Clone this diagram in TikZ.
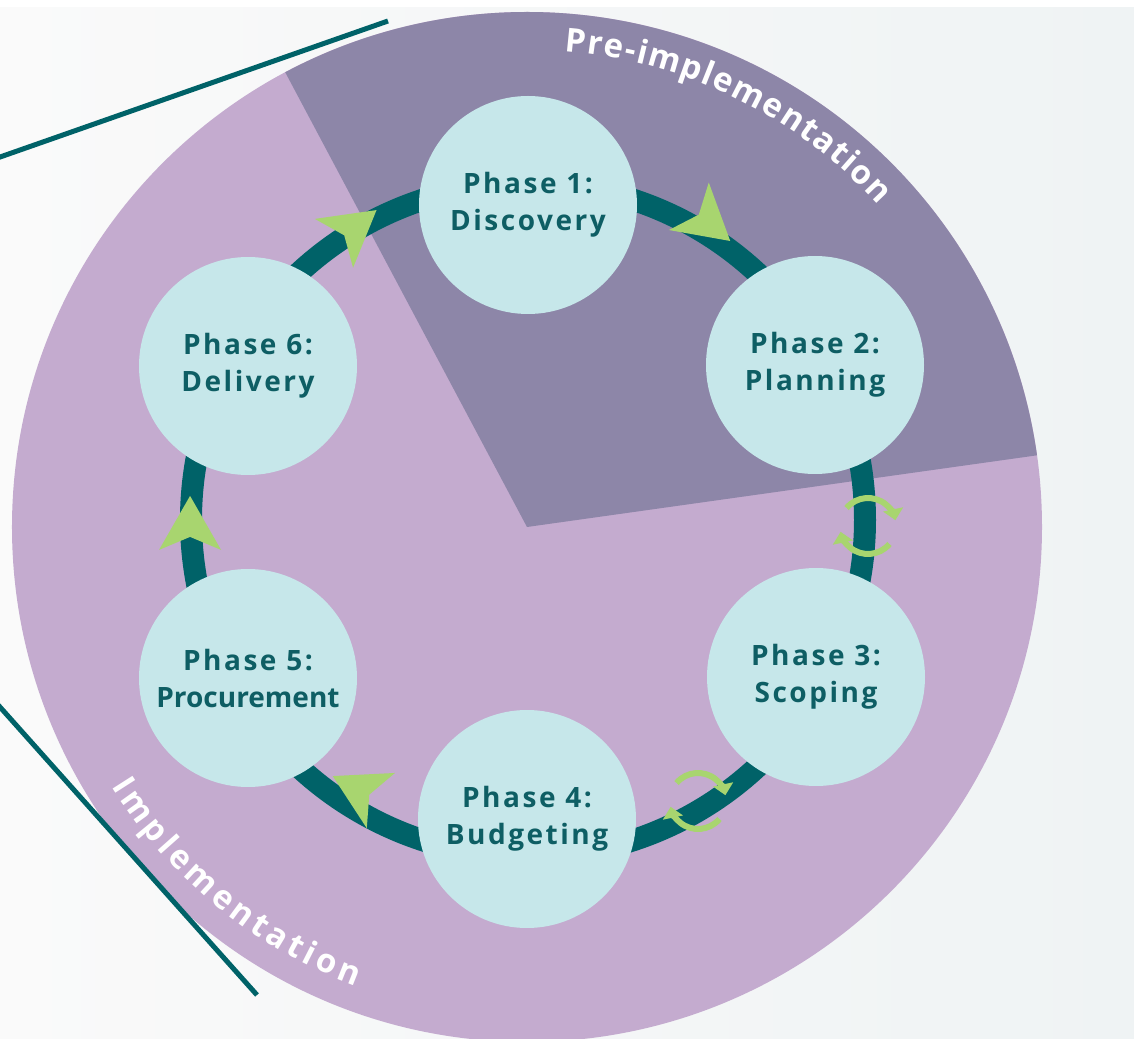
\documentclass[tikz,border=0pt]{standalone}
\usepackage{fontspec}
\setmainfont{Open Sans}
\usetikzlibrary{arrows.meta,decorations.text}
\definecolor{lavender}{RGB}{196,171,207}
\definecolor{dusk}{RGB}{141,134,168}
\definecolor{mist}{RGB}{198,231,234}
\definecolor{deepteal}{RGB}{0,98,104}
\definecolor{inkteal}{RGB}{14,94,100}
\definecolor{leaf}{RGB}{168,213,111}
\definecolor{paperl}{RGB}{250,250,250}
\definecolor{paperr}{RGB}{239,243,244}
\newfontfamily\phasefam[LetterSpace=9]{Open Sans}
\newcommand{\labelstyle}{\fontsize{33}{36}\selectfont\bfseries}

\begin{document}
\begin{tikzpicture}[x=1pt,y=1pt,
  phase/.style={circle,fill=mist,minimum size=218pt,inner sep=0pt,align=center,
    text=inkteal,font=\fontsize{28}{37}\selectfont\phasefam\bfseries},
  ring/.style={draw=deepteal,line width=22pt},
  rim/.style={draw=deepteal,line width=5pt},
  arclabel/.style={decorate,decoration={text along path,text align=fit to path,
    text color=white,text={#1}}},
  flowtip/.pic={\fill[leaf] (30,0) -- (-24,31) -- (-11,0) -- (-24,-31) -- cycle;},
  cycleicon/.pic={\draw[leaf,line width=6pt,-{Triangle[length=11pt,width=20pt]}]
      (140:28) arc[start angle=140,end angle=12,radius=28];
    \draw[leaf,line width=6pt,-{Triangle[length=11pt,width=20pt]}]
      (-40:28) arc[start angle=-40,end angle=-168,radius=28];}]
  \useasboundingbox (-528,-518) rectangle (606,520);
  \shade[left color=paperl,right color=paperr] (-528,-518) rectangle (606,513);
  \fill[white] (-528,513) rectangle (606,520);

  \coordinate (hub) at (0,0);
  \coordinate (disc) at (-1,-7);
  \fill[lavender] (disc) circle (515);
  \fill[dusk] (disc) -- ++(8:515) arc[start angle=8,end angle=118,radius=515] -- cycle;
  {\labelstyle
  \path[arclabel=Pre-implementation] ([shift={(85.5:477)}]disc)
    arc[start angle=85.5,end angle=42.5,radius=477];
  \path[arclabel=Implementation] ([shift={(212:490)}]disc)
    arc[start angle=212,end angle=249.5,radius=490];}

  \coordinate (a1) at (-535,360.5); \coordinate (a2) at (-140,499);
  \coordinate (b1) at (-535,-179.2); \coordinate (b2) at (-271,-475);
  \draw[rim] (a1) -- (a2);
  \draw[rim] (b1) -- (b2);

  \draw[ring] (hub) circle (337);
  \foreach \ang/\rad/\rot in {59/348/-40,121/340/38,181/338/90,238/318/153}
    \pic[rotate=\rot] at (\ang:\rad) {flowtip};
  \coordinate (c23) at (340,-6);
  \coordinate (c34) at (170,-281);
  \pic at (c23) {cycleicon};
  \pic at (c34) {cycleicon};

  \node[phase] (p1) at (0,315) {Phase 1:\\Discovery};
  \node[phase] (p2) at (287,155) {Phase 2:\\Planning};
  \node[phase] (p3) at (288,-157) {Phase 3:\\Scoping};
  \node[phase] (p4) at (-1,-299) {Phase 4:\\Budgeting};
  \node[phase] (p5) at (-280,-158) {Phase 5:\\{\addfontfeature{LetterSpace=0}Procurement}};
  \node[phase] (p6) at (-280,154) {Phase 6:\\Delivery};
\end{tikzpicture}
\end{document}
